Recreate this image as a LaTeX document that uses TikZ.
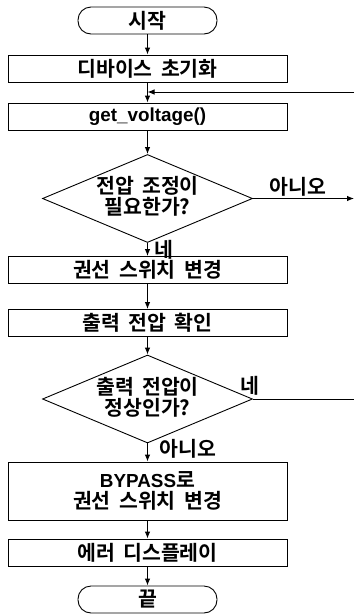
\documentclass[tikz,border=0pt]{standalone}
\usepackage{fontspec}
\setmainfont{Noto Sans CJK KR}[WordSpace=1.8,UprightFont=* Bold]
\newfontfamily\latinf{Liberation Sans}[Scale=0.92]
\usetikzlibrary{arrows.meta,shapes.geometric}
\begin{document}
\begin{tikzpicture}[x=1pt,y=-1pt,
  every node/.style={font=\fontsize{20.5}{21}\selectfont},
  term/.style={draw,line width=0.9pt,rounded corners=13pt,minimum width=139pt,minimum height=27pt,inner sep=0pt},
  proc/.style={draw,line width=0.9pt,minimum width=279pt,minimum height=27pt,inner sep=0pt},
  dec/.style={draw,line width=0.9pt,diamond,minimum width=210pt,minimum height=88pt,inner sep=0pt},
  txt/.style={inner sep=0pt,align=center},
  flow/.style={line width=0.9pt,-{Latex[length=7pt,width=5.5pt]}},
  plain/.style={line width=0.9pt}]
\useasboundingbox (0,0) rectangle (354,614);
\node[term] (start) at (147.5,20.5) {시작};
\node[proc] (b1) at (147.5,68.5) {디바이스 초기화};
\node[proc] (b2) at (147.5,116.5) {{\latinf\bfseries get\_voltage()}};
\node[dec] (d1) at (147.5,198.5) {};
\node[txt] (d1t) at (147.5,196.5) {전압 조정이\\필요한가?};
\node[proc] (b3) at (147.5,270) {권선 스위치 변경};
\node[proc] (b4) at (147.5,323) {출력 전압 확인};
\node[dec] (d2) at (147.5,399) {};
\node[txt] (d2t) at (147.5,397) {출력 전압이\\정상인가?};
\node[proc,minimum height=58pt,align=center] (b5) at (147.5,491) {{\latinf\bfseries BYPASS}로\\권선 스위치 변경};
\node[proc] (b6) at (147.5,552.5) {에러 디스플레이};
\node[term] (end) at (147.5,599.5) {끝};
\coordinate (r1) at (354,92);
\coordinate (j1) at (147.5,92);
\coordinate (r2) at (354,198.5);
\coordinate (r3) at (354,399);
\node[txt] (l1) at (298,187) {아니오};
\node[txt] (l2) at (164,250) {네};
\node[txt] (l3) at (250,386) {네};
\node[txt] (l4) at (188,449) {아니오};
\draw[flow] (start) -- (b1);
\draw[flow] (b1) -- (b2);
\draw[flow] (r1) -- (j1);
\draw[flow] (b2) -- (d1);
\draw[flow] (d1.east) -- (r2);
\draw[flow] (d1.south) -- (b3);
\draw[flow] (b3) -- (b4);
\draw[flow] (b4) -- (d2.north);
\draw[plain] (d2.east) -- (r3);
\draw[flow] (d2.south) -- (b5.north);
\draw[flow] (b5) -- (b6);
\draw[flow] (b6) -- (end);
\end{tikzpicture}
\end{document}
